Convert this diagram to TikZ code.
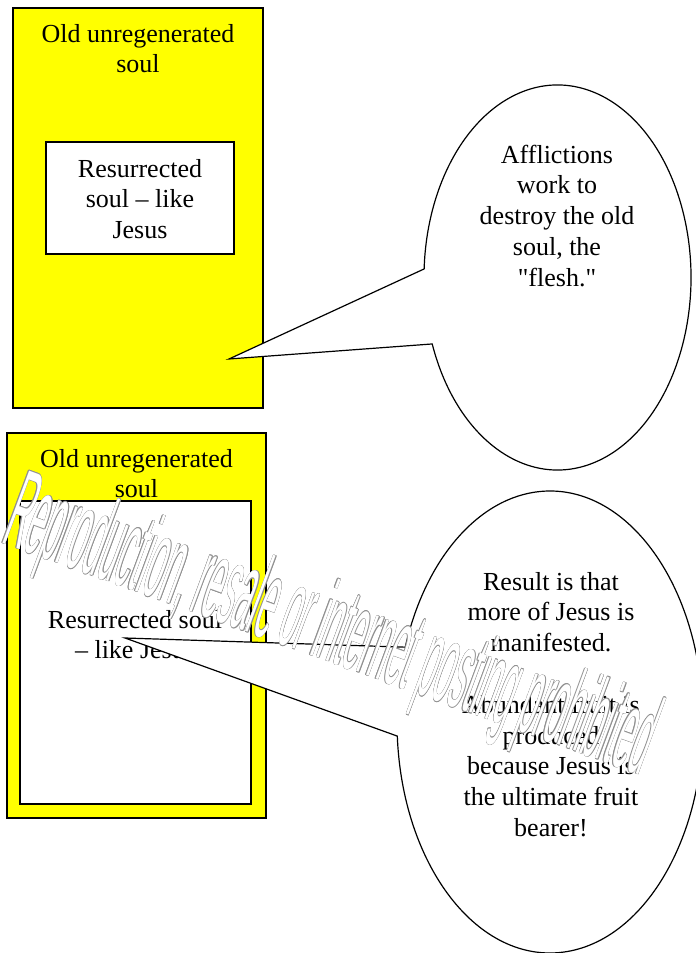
\documentclass[tikz,border=0pt]{standalone}
\usepackage{fontspec}
\setmainfont{Liberation Serif}[Ligatures=TeXOff]
\newfontfamily\wmfont{Liberation Sans}
\definecolor{boxyellow}{RGB}{255,255,0}
\definecolor{wmgray}{RGB}{145,145,145}
\begin{document}
\begin{tikzpicture}[x=1pt,y=1pt,
  outerbox/.style={draw=black, fill=boxyellow, line width=1.3pt, inner sep=0pt},
  innerbox/.style={draw=black, fill=white, line width=1.3pt, inner sep=0pt},
  label/.style={font=\fontsize{26}{30.8}\selectfont, align=center, inner sep=0pt, anchor=north},
  callout/.style={draw=black, fill=white, line width=1.2pt, line join=miter},
  wmtext/.style={transform shape, anchor=base west, inner sep=0pt, font=\wmfont\fontsize{105}{105}\selectfont}]
\useasboundingbox (0,0) rectangle (696,953);
\clip (0,0) rectangle (696,953);
\fill[white] (0,0) rectangle (696,953);

% ---- top group
\node[outerbox, minimum width=250pt, minimum height=400pt] (oldA) at (138,745) {};
\node[innerbox, minimum width=188pt, minimum height=112pt] (newA) at (140,755) {};
\node[label] (titleA) at (138,930) {\rule{0pt}{19pt}Old unregenerated\\soul};
\node[label] (resA) at (140,795) {\rule{0pt}{19pt}Resurrected\\soul – like\\Jesus};
\coordinate (tipA) at (229,594);
\coordinate (cA) at (557.5,675.5);
\path[callout] (tipA) -- ([shift={(200.2:133.5pt and 192.5pt)}]cA)
  arc[start angle=200.2, end angle=537.45, x radius=133.5pt, y radius=192.5pt] -- cycle;
\node[label] (affl) at (557,809) {\rule{0pt}{19pt}Afflictions\\work to\\destroy the old\\soul, the\\"flesh."};

% ---- bottom group
\node[outerbox, minimum width=259pt, minimum height=385pt] (oldB) at (136.5,327.5) {};
\node[innerbox, minimum width=231pt, minimum height=303pt] (newB) at (135.5,300.5) {};
\node[label] (titleB) at (136.5,505) {\rule{0pt}{19pt}Old unregenerated\\soul};
\node[label] (resB) at (135,344) {\rule{0pt}{19pt}Resurrected soul\\– like Jesus};
\coordinate (tipB) at (125,315);
\coordinate (cB) at (550,231);
\path[callout] (tipB) -- ([shift={(183.5:153pt and 231pt)}]cB)
  arc[start angle=183.5, end angle=521.1, x radius=153pt, y radius=231pt] -- cycle;
\node[label] (result) at (551,382) {\rule{0pt}{19pt}Result is that\\more of Jesus is\\manifested.\\[30.8pt]Abundant fruit is\\produced\\because Jesus is\\the ultimate fruit\\bearer!};

% ---- watermark (outlined, sheared text)
\foreach \dx/\dy [count=\i] in {0.45/0, -0.45/0, 0/0.45, 0/-0.45, 0.32/0.32, -0.32/0.32, 0.32/-0.32, -0.32/-0.32} {
  \begin{scope}[shift={(\dx pt,\dy pt)}, cm={0.275,-0.100,0.37,1,(0,411)}]
    \node[wmtext, text=wmgray] (wmc\i) at (0,0) {Reproduction, resale or internet posting prohibited};
  \end{scope}
}
\begin{scope}[cm={0.275,-0.100,0.37,1,(0,411)}]
  \node[wmtext, text=white] (wm) at (0,0) {Reproduction, resale or internet posting prohibited};
\end{scope}
\end{tikzpicture}
\end{document}
